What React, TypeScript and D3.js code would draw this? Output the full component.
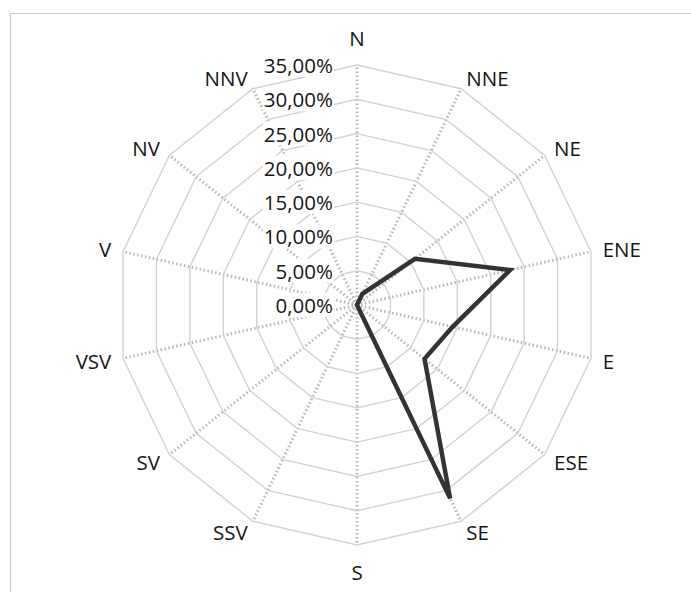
import React, { useEffect, useRef } from 'react'
import * as d3 from 'd3'

const directions = ['N', 'NNE', 'NE', 'ENE', 'E', 'ESE', 'SE', 'S', 'SSV', 'SV', 'VSV', 'V', 'NV', 'NNV']
const frequencies = [0, 1.8, 10.8, 22.9, 14.3, 12.6, 31.3, 0, 0, 0, 0, 0, 0, 0]
const ticks = [0, 5, 10, 15, 20, 25, 30, 35]

export default function App() {
  const svgRef = useRef<SVGSVGElement>(null)

  useEffect(() => {
    if (!svgRef.current) return
    const svg = d3.select(svgRef.current)
    svg.selectAll('*').remove()

    const width = 691
    const height = 592
    const cx = 357
    const cy = 305
    const outer = 240
    const font = "'Open Sans', sans-serif"
    const fontSize = 20.5

    const r = d3.scaleLinear().domain([0, 35]).range([0, outer])
    const angle = d3.scaleLinear().domain([0, directions.length]).range([0, 2 * Math.PI])

    const pt = (i: number, rad: number): [number, number] => [
      cx + Math.sin(angle(i)) * rad,
      cy - Math.cos(angle(i)) * rad
    ]

    svg.attr('width', width).attr('height', height)

    // frame - only top and left edges show in the picture
    svg.append('line')
      .attr('x1', 10).attr('x2', width).attr('y1', 13.5).attr('y2', 13.5)
      .attr('stroke', '#c8c8c8').attr('stroke-width', 1.2)
    svg.append('line')
      .attr('x1', 10.5).attr('x2', 10.5).attr('y1', 13).attr('y2', height)
      .attr('stroke', '#c8c8c8').attr('stroke-width', 1.2)

    const g = svg.append('g')

    // spokes
    directions.forEach((_, i) => {
      const [x, y] = pt(i, outer)
      g.append('line')
        .attr('x1', cx).attr('y1', cy).attr('x2', x).attr('y2', y)
        .attr('stroke', '#b8b8b8')
        .attr('stroke-width', 3)
        .attr('stroke-dasharray', '1.5 2.5')
    })

    // rings
    ticks.slice(1).forEach(t => {
      const pts = directions.map((_, i) => pt(i, r(t)))
      g.append('path')
        .attr('d', d3.line().curve(d3.curveLinearClosed)(pts))
        .attr('fill', 'none')
        .attr('stroke', '#d2d2d2')
        .attr('stroke-width', 1.4)
    })

    // data polygon
    const dataPts = frequencies.map((v, i) => pt(i, r(v)))
    g.append('path')
      .attr('d', d3.line().curve(d3.curveLinearClosed)(dataPts))
      .attr('fill', 'none')
      .attr('stroke', '#333333')
      .attr('stroke-width', 4.5)
      .attr('stroke-linejoin', 'miter')

    // tick labels
    ticks.forEach(t => {
      const y = cy - r(t)
      const bg = g.append('rect').attr('fill', 'white')
      const txt = g.append('text')
        .attr('x', cx - 24)
        .attr('y', y)
        .attr('text-anchor', 'end')
        .attr('dominant-baseline', 'central')
        .attr('font-family', font)
        .attr('font-size', fontSize)
        .attr('fill', '#151515')
        .text(`${t.toFixed(2).replace('.', ',')}%`)
      const b = (txt.node() as SVGTextElement).getBBox()
      bg.attr('x', b.x - 1).attr('y', b.y + 2).attr('width', b.width + 2).attr('height', b.height - 4)
    })

    // direction labels
    directions.forEach((d, i) => {
      const s = Math.sin(angle(i))
      const vertical = Math.abs(s) < 0.05
      const [x, y] = vertical ? pt(i, outer + 27) : pt(i, outer + 12)
      g.append('text')
        .attr('x', x)
        .attr('y', y)
        .attr('text-anchor', vertical ? 'middle' : s > 0 ? 'start' : 'end')
        .attr('dominant-baseline', 'central')
        .attr('font-family', font)
        .attr('font-size', fontSize)
        .attr('fill', '#151515')
        .text(d)
    })
  }, [])

  return (
    <svg
      ref={svgRef}
      style={{ position: 'absolute', left: 0, top: 0, background: 'white' }}
    />
  )
}
